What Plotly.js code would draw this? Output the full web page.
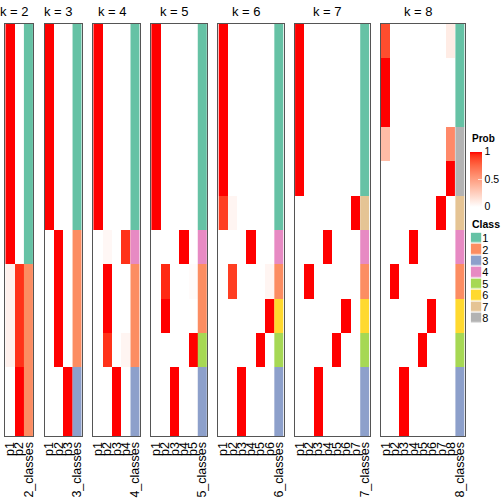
<!DOCTYPE html>
<html>
<head>
<meta charset="utf-8">
<script src="https://cdn.plot.ly/plotly-3.0.1.min.js"></script>
<style>html,body{margin:0;padding:0;background:#fff;}#chart{width:504px;height:504px;}</style>
</head>
<body>
<div id="chart"></div>
<script>
// ---------------- DATA ----------------
var kValues = [2, 3, 4, 5, 6, 7, 8];
var nSamples = 12;
var classLabels = ['1', '2', '3', '4', '5', '6', '7', '8'];

// class assignment per sample (top to bottom)
var classes2 = [1,1,1,1,1,1,1,2,2,2,2,2];
var classes3 = [1,1,1,1,1,1,2,2,2,2,3,3];
var classes4 = [1,1,1,1,1,1,4,2,2,2,3,3];
var classes5 = [1,1,1,1,1,1,4,2,2,5,3,3];
var classes6 = [1,1,1,1,1,1,4,2,6,5,3,3];
var classes7 = [1,1,1,1,1,7,4,2,6,5,3,3];
var classes8 = [1,1,1,8,8,7,4,2,6,5,3,3];

// membership probabilities, one array per column p1..pk
var prob2 = [
  [1,1,1,1,1,1,1,0.07,0.07,0.07,0,0],
  [0,0,0,0,0,0,0,0.93,0.93,0.93,1,1]
];
var prob3 = [
  [1,1,1,1,1,1,0,0,0,0,0,0],
  [0,0,0,0,0,0,1,1,1,1,0,0],
  [0,0,0,0,0,0,0,0,0,0,1,1]
];
var prob4 = [
  [1,1,1,1,1,1,0,0,0,0,0,0],
  [0,0,0,0,0,0,0.04,1,1,0.93,0,0],
  [0,0,0,0,0,0,0,0,0,0,1,1],
  [0,0,0,0,0,0,0.93,0,0,0.05,0,0]
];
var prob5 = [
  [1,1,1,1,1,1,0,0,0,0,0,0],
  [0,0,0,0,0,0,0,0.95,1,0,0,0],
  [0,0,0,0,0,0,0,0,0,0,1,1],
  [0,0,0,0,0,0,1,0,0,0,0,0],
  [0,0,0,0,0,0,0,0.02,0,1,0,0]
];
var prob6 = [
  [1,1,1,1,1,0.9,0,0,0,0,0,0],
  [0,0,0,0,0,0.05,0,0.9,0,0,0,0],
  [0,0,0,0,0,0,0,0,0,0,1,1],
  [0,0,0,0,0,0,1,0,0,0,0,0],
  [0,0,0,0,0,0,0,0,0,1,0,0],
  [0,0,0,0,0,0,0,0.05,1,0,0,0]
];
var prob7 = [
  [1,1,1,1,1,0,0,0,0,0,0,0],
  [0,0,0,0,0,0,0,1,0,0,0,0],
  [0,0,0,0,0,0,0,0,0,0,1,1],
  [0,0,0,0,0,0,1,0,0,0,0,0],
  [0,0,0,0,0,0,0,0,0,1,0,0],
  [0,0,0,0,0,0,0,0,1,0,0,0],
  [0,0,0,0,0,1,0,0,0,0,0,0]
];
var prob8 = [
  [0.85,1,1,0.35,0,0,0,0,0,0,0,0],
  [0,0,0,0,0,0,0,1,0,0,0,0],
  [0,0,0,0,0,0,0,0,0,0,1,1],
  [0,0,0,0,0,0,1,0,0,0,0,0],
  [0,0,0,0,0,0,0,0,0,1,0,0],
  [0,0,0,0,0,0,0,0,1,0,0,0],
  [0,0,0,0,0,1,0,0,0,0,0,0],
  [0.1,0,0,0.6,1,0,0,0,0,0,0,0]
];

var probByK = {2: prob2, 3: prob3, 4: prob4, 5: prob5, 6: prob6, 7: prob7, 8: prob8};
var classesByK = {2: classes2, 3: classes3, 4: classes4, 5: classes5, 6: classes6, 7: classes7, 8: classes8};

// ---------------- STYLE ----------------
var W = 504, H = 504;
var FONT = 'Liberation Sans, Arial, Helvetica, sans-serif';
var classColors = ['#66C2A5', '#FC8D62', '#8DA0CB', '#E78AC3', '#A6D854', '#FFD92F', '#E5C494', '#B3B3B3'];

// white -> red interpolated in CIE LAB (like circlize::colorRamp2)
function lab2rgb(L, A, B) {
  var fy = (L + 16) / 116, fx = fy + A / 500, fz = fy - B / 200;
  function finv(t) { var t3 = t * t * t; return t3 > 0.008856 ? t3 : (t - 16 / 116) / 7.787; }
  var X = 0.95047 * finv(fx), Y = finv(fy), Z = 1.08883 * finv(fz);
  var r = 3.2406 * X - 1.5372 * Y - 0.4986 * Z;
  var g = -0.9689 * X + 1.8758 * Y + 0.0415 * Z;
  var b = 0.0557 * X - 0.2040 * Y + 1.0570 * Z;
  function gam(c) { c = c <= 0.0031308 ? 12.92 * c : 1.055 * Math.pow(c, 1 / 2.4) - 0.055; return Math.max(0, Math.min(255, Math.round(c * 255))); }
  return 'rgb(' + gam(r) + ',' + gam(g) + ',' + gam(b) + ')';
}
var labWhite = [100, 0, 0], labRed = [53.24, 80.09, 67.20];
var probScale = [];
for (var s = 0; s <= 20; s++) {
  var t = s / 20;
  probScale.push([t, lab2rgb(labWhite[0] + (labRed[0] - labWhite[0]) * t,
                              labWhite[1] + (labRed[1] - labWhite[1]) * t,
                              labWhite[2] + (labRed[2] - labWhite[2]) * t)]);
}
var classScale = [];
for (var c = 0; c < classColors.length; c++) {
  classScale.push([c / classColors.length, classColors[c]]);
  classScale.push([(c + 1) / classColors.length, classColors[c]]);
}

// panel geometry (pixels)
var left0 = 5.3, colW = 9.31, gapW = 11.4, topPx = 24, botPx = 436;

var data = [], layout = {
  width: W, height: H,
  margin: {l: 0, r: 0, t: 0, b: 0, pad: 0},
  paper_bgcolor: '#fff', plot_bgcolor: '#fff',
  showlegend: false,
  font: {family: FONT, color: '#000'},
  annotations: []
};

var yIdx = [];
for (var r = 0; r < nSamples; r++) yIdx.push(r);

var xCursor = left0;
kValues.forEach(function (k, i) {
  var ax = i === 0 ? '' : String(i + 1);
  var nCols = k + 1;
  var x0 = xCursor, x1 = xCursor + nCols * colW;
  xCursor = x1 + gapW;
  var probs = probByK[k], cls = classesByK[k];
  var px = [], tickv = [], tickt = [];
  for (var j = 0; j < k; j++) { px.push(j); tickv.push(j); tickt.push('p' + (j + 1)); }
  tickv.push(k); tickt.push(k + '_classes');

  var probTrace = {
    type: 'heatmap', x: px, y: yIdx, z: probs, transpose: true,
    zmin: 0, zmax: 1, colorscale: probScale,
    showscale: i === 0, hoverinfo: 'skip',
    xaxis: 'x' + ax, yaxis: 'y' + ax
  };
  if (i === 0) {
    probTrace.colorbar = {
      x: 470 / W, xanchor: 'left', xref: 'paper',
      y: 1 - 151.5 / H, yanchor: 'top', yref: 'paper',
      len: 55, lenmode: 'pixels', thickness: 12, thicknessmode: 'pixels',
      xpad: 0, ypad: 0, outlinewidth: 0,
      tickvals: [0, 0.5, 1], ticktext: ['0', '0.5', '1'],
      ticks: 'inside', ticklen: 4, tickcolor: 'rgba(255,255,255,0.7)',
      tickfont: {family: FONT, size: 10.5, color: '#000'}
    };
  }
  data.push(probTrace);
  data.push({
    type: 'heatmap', x: [k], y: yIdx, z: cls.map(function (v) { return [v]; }),
    zmin: 0.5, zmax: classColors.length + 0.5, colorscale: classScale,
    showscale: false, hoverinfo: 'skip',
    xaxis: 'x' + ax, yaxis: 'y' + ax
  });

  layout['xaxis' + ax] = {
    domain: [x0 / W, x1 / W], anchor: 'y' + ax,
    range: [-0.5, k + 0.5], tickmode: 'array', tickvals: tickv, ticktext: tickt,
    tickangle: -90, ticks: '', showgrid: false, zeroline: false,
    showline: true, mirror: true, linecolor: '#555', linewidth: 1,
    tickfont: {family: FONT, size: 12.5, color: '#000'}, fixedrange: true
  };
  layout['yaxis' + ax] = {
    domain: [1 - botPx / H, 1 - topPx / H], anchor: 'x' + ax,
    range: [nSamples - 0.5, -0.5], showticklabels: false, ticks: '',
    showgrid: false, zeroline: false,
    showline: true, mirror: true, linecolor: '#555', linewidth: 1, fixedrange: true
  };
  layout.annotations.push({
    text: 'k = ' + k, xref: 'paper', yref: 'paper',
    x: (x0 + x1) / 2 / W, y: 1 - 11 / H, xshift: -4.5,
    xanchor: 'center', yanchor: 'middle', showarrow: false,
    font: {family: FONT, size: 13, color: '#000'}
  });
});

// class legend drawn as a small heatmap of the class codes
var legIdx = classLabels.map(function (_, q) { return q; });
data.push({
  type: 'heatmap', x: [0], y: legIdx, z: legIdx.map(function (q) { return [q + 1]; }),
  zmin: 0.5, zmax: classColors.length + 0.5, colorscale: classScale,
  showscale: false, hoverinfo: 'skip', ygap: 1.4,
  xaxis: 'x8', yaxis: 'y8'
});
layout.xaxis8 = {
  domain: [470.7 / W, 481.3 / W], anchor: 'y8', range: [-0.5, 0.5],
  visible: false, fixedrange: true
};
layout.yaxis8 = {
  domain: [1 - 324 / H, 1 - 232.6 / H], anchor: 'x8', side: 'right',
  range: [classLabels.length - 0.5, -0.5], tickmode: 'array',
  tickvals: legIdx, ticktext: classLabels, ticks: '', showgrid: false,
  zeroline: false, showline: false,
  tickfont: {family: FONT, size: 11, color: '#000'}, fixedrange: true
};

layout.annotations.push({
  text: '<b>Prob</b>', xref: 'paper', yref: 'paper', x: 470 / W, y: 1 - 138.5 / H,
  xanchor: 'left', yanchor: 'middle', showarrow: false,
  font: {family: FONT, size: 10, color: '#000'}
});
layout.annotations.push({
  text: '<b>Class</b>', xref: 'paper', yref: 'paper', x: 470 / W, y: 1 - 224 / H,
  xanchor: 'left', yanchor: 'middle', showarrow: false,
  font: {family: FONT, size: 10.5, color: '#000'}
});

Plotly.newPlot('chart', data, layout, {staticPlot: true, displayModeBar: false});
</script>
</body>
</html>
